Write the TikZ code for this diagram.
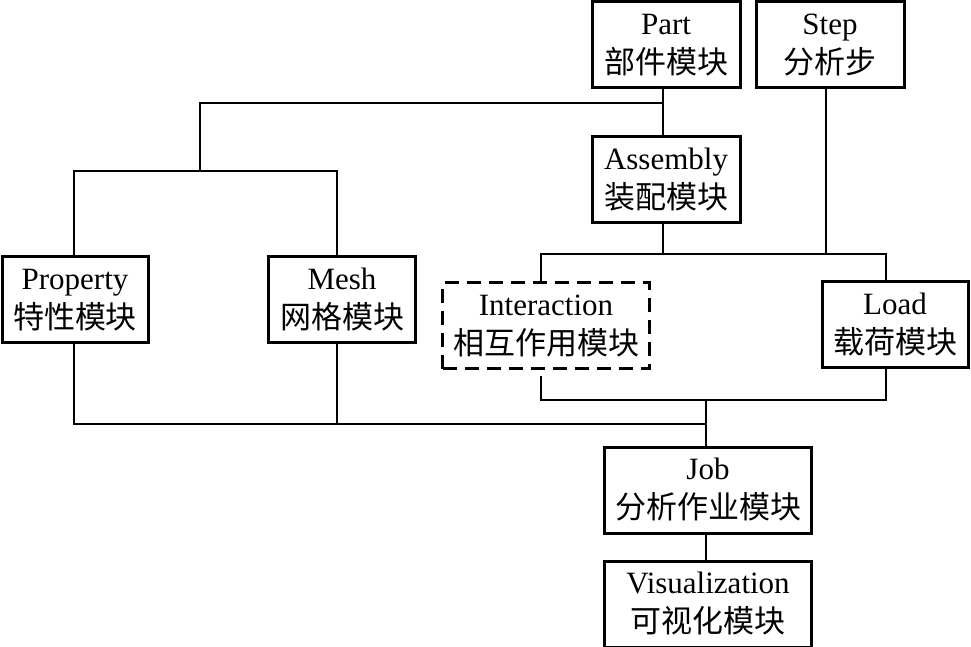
\documentclass[tikz,border=0pt]{standalone}
\usepackage{fontspec}
\setmainfont{Liberation Serif}
\newfontfamily\cjk{Noto Sans CJK SC}
\usetikzlibrary{positioning}

\begin{document}
\begin{tikzpicture}[
        x=0.5pt, y=-0.5pt,
        module/.style={rectangle, draw=black, line width=1.5pt, align=center, inner sep=0pt,
            minimum width=74pt, minimum height=43pt, font=\fontsize{15.5}{19.5}\selectfont},
        dashbox/.style={module, dash pattern=on 7pt off 4pt},
        link/.style={line width=1pt, black}
    ]
        \useasboundingbox (0,0) rectangle (971,647);

        % Top row
        \node[module] (part) at (666,45) {Part\\{\cjk 部件模块}};
        \node[module] (step) at (830,45) {Step\\{\cjk 分析步}};
        \node[module] (asm) at (666,180) {Assembly\\{\cjk 装配模块}};

        % Middle row
        \node[module, minimum width=73pt] (prop) at (75,300) {Property\\{\cjk 特性模块}};
        \node[module, minimum width=73.5pt] (mesh) at (342,300) {Mesh\\{\cjk 网格模块}};
        \node[dashbox, minimum width=103.5pt] (inter) at (546,326) {Interaction\\{\cjk 相互作用模块}};
        \node[module, minimum width=73pt] (load) at (895,325) {Load\\{\cjk 载荷模块}};

        % Bottom
        \node[module, minimum width=103.5pt] (job) at (708,490) {Job\\{\cjk 分析作业模块}};
        \node[module, minimum width=103.5pt, below=12.5pt of job] (vis) {Visualization\\{\cjk 可视化模块}};

        % Junctions
        \coordinate (tpart) at (663,103);
        \coordinate (tleft) at (200,171);
        \coordinate (tmid) at (663,254);
        \coordinate (tlow) at (706,400);
        \coordinate (tbase) at (706,424);

        % Connections
        \draw[link] ([xshift=-1.5pt]part.south) -- ([xshift=-1.5pt]asm.north);
        \draw[link] ([xshift=-0.5pt]prop.north) |- (tleft) -| ([xshift=-2.5pt]mesh.north);
        \draw[link] (tleft) |- (tpart);
        \draw[link] ([xshift=-1.5pt]asm.south) -- (tmid);
        \draw[link] ([xshift=-2.5pt]inter.north) |- (tmid) -| ([xshift=-4.5pt]load.north);
        \draw[link] ([xshift=-2pt]step.south) -- ([xshift=-2pt]step.south |- tmid);
        \draw[link] ([xshift=-2.5pt,yshift=-3pt]inter.south) |- (tlow) -| ([xshift=-4.5pt]load.south);
        \draw[link] (tlow) -- (tlow |- job.north);
        \draw[link] ([xshift=-0.5pt]prop.south) |- (tbase);
        \draw[link] ([xshift=-2.5pt]mesh.south) -- ([xshift=-2.5pt]mesh.south |- tbase);
        \draw[link] (tlow |- job.south) -- (tlow |- vis.north);
    \end{tikzpicture}
\end{document}
